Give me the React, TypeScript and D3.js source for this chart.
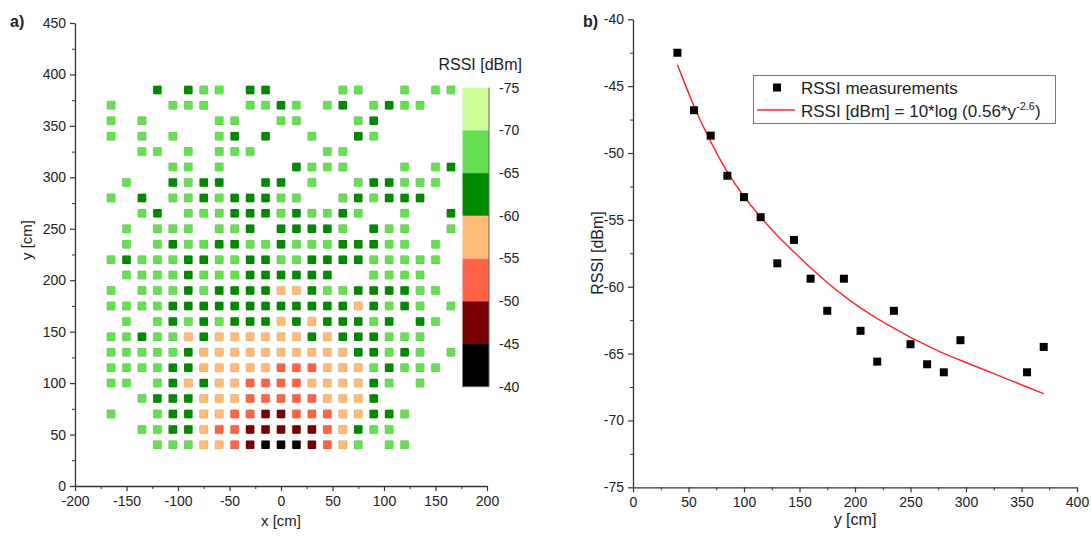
import React, { useRef, useEffect } from 'react';
import * as d3 from 'd3';

// ---- panel a) : RSSI map ----
const colX = [-165, -150, -135, -120, -105, -90, -75, -60, -45, -30, -15, 0, 15, 30, 45, 60, 75, 90, 105, 120, 135, 150, 165];
const rowY = [40, 55, 70, 85, 100, 115, 130, 145, 160, 175, 190, 205, 220, 235, 250, 265, 280, 295, 310, 325, 340, 355, 370, 385];
// one string per row (rowY order), one char per column (colX order)
// L: -70..-65, D: -65..-60, O: -60..-55, R: -55..-50, M: -50..-45, K: -45..-40
const heatRows = [
  '...LLLOORMKKKMROL.LL...',
  '..LLDDORRMMMMMRODLL....',
  'L..LDDOORRMMRRROODDL...',
  '..LDDDOOORRRRROOOD.....',
  'LL.LDODOORRRROOOODL.L..',
  'LLLLDDOOOOORRROOOLDLLL.',
  'LLLLLDOOOOOOOOOODDLDL.L',
  'LLDLLODOOOOOODODDDLLL..',
  '.L.LDLDLDDDODODDDLD.DL.',
  'LLLLDDDDDDDDDDDDODLDL.L',
  'L.LLLDLDDDDOODLLDDDDLL.',
  '.LLLLDLLLDDDDDD..LLLL..',
  'LDLLLDDLLDDLLDDDDLLLLL.',
  '.L.LDLLDDLLDLLLDDDLL.L.',
  '.L.LLL.LLD.DDDDL.DLL..L',
  '..LD.LLLDDDLDLLDL..L..D',
  'L.D.LLDLDDDLL..LDLDDD..',
  '.L..DLDD..DD.L..LDDLLL.',
  '....LL.L....DLLL...L.LD',
  '..LL.L.LLL....LL.......',
  'L.L.L..LD.D..L..DL.....',
  'L.L....LL..LL...LD.....',
  'L...LLL..LLDL.LD.LDLL..',
  '...D.DLL.DD....LL..L.LL',
];
const codeValue: Record<string, number> = { P: -72.5, L: -67.5, D: -62.5, O: -57.5, R: -52.5, M: -47.5, K: -42.5 };
const binEdges = [-75, -70, -65, -60, -55, -50, -45, -40];
const binColours = ['#ccff99', '#66e052', '#008a00', '#ffbb77', '#ff6347', '#780000', '#000000'];
const mapXTicks = [-200, -150, -100, -50, 0, 50, 100, 150, 200];
const mapYTicks = [0, 50, 100, 150, 200, 250, 300, 350, 400, 450];

// ---- panel b) : RSSI vs distance ----
const distances = [40, 55, 70, 85, 100, 115, 130, 145, 160, 175, 190, 205, 220, 235, 250, 265, 280, 295, 355, 370];
const rssi = [-42.5, -46.8, -48.7, -51.7, -53.3, -54.8, -58.25, -56.5, -59.4, -61.8, -59.4, -63.3, -65.6, -61.8, -64.3, -65.8, -66.4, -64.0, -66.4, -64.5];
const fitX = [40, 55, 70, 85, 100, 115, 130, 145, 160, 175, 190, 205, 220, 235, 250, 265, 280, 295, 310, 325, 340, 355, 370];
const fitY = [-43.4, -46.6, -49.2, -51.5, -53.3, -54.8, -56.2, -57.4, -58.6, -59.7, -60.7, -61.6, -62.4, -63.1, -63.8, -64.4, -65.0, -65.5, -66.0, -66.5, -67.0, -67.5, -68.0];
const distTicks = [0, 50, 100, 150, 200, 250, 300, 350, 400];
const rssiTicks = [-75, -70, -65, -60, -55, -50, -45, -40];

const FONT = "'Liberation Sans', Arial, sans-serif";

const App = () => {
  const svgRef = useRef<SVGSVGElement>(null);

  useEffect(() => {
    if (!svgRef.current) return;
    const svg = d3.select(svgRef.current);
    svg.selectAll('*').remove();
    svg.style('font-family', FONT);

    const styleAxis = (g: any) => {
      g.select('.domain').attr('stroke', '#333').attr('stroke-width', 1.3);
      g.selectAll('.tick line').attr('stroke', '#333').attr('stroke-width', 1.2);
      g.selectAll('.tick text').attr('fill', '#222').style('font-size', '14px').style('font-family', FONT);
    };
    const minorOnly = (g: any) => {
      g.select('.domain').remove();
      g.selectAll('.tick line').attr('stroke', '#333').attr('stroke-width', 1);
    };

    // ============ panel a ============
    const xA = d3.scaleLinear().domain([-200, 200]).range([75, 487]);
    const yA = d3.scaleLinear().domain([0, 450]).range([486, 23]);
    const colour = d3.scaleThreshold<number, string>().domain(binEdges.slice(1, -1)).range(binColours);

    const a = svg.append('g');
    const cells: { x: number; y: number; v: number }[] = [];
    heatRows.forEach((row, j) => {
      row.split('').forEach((c, i) => {
        if (c !== '.') cells.push({ x: colX[i], y: rowY[j], v: codeValue[c] });
      });
    });
    const s = 8.5;
    a.selectAll('rect.cell')
      .data(cells)
      .enter().append('rect')
      .attr('class', 'cell')
      .attr('x', d => xA(d.x) - s / 2)
      .attr('y', d => yA(d.y) - s / 2)
      .attr('width', s)
      .attr('height', s)
      .attr('rx', 1)
      .attr('fill', d => colour(d.v))
      .attr('stroke', 'rgba(0,0,0,0.12)')
      .attr('stroke-width', 0.8);

    a.append('g').attr('transform', 'translate(0,486)')
      .call(d3.axisBottom(xA).tickValues(d3.range(-175, 200, 50)).tickSize(3).tickFormat(() => ''))
      .call(minorOnly);
    a.append('g').attr('transform', 'translate(75,0)')
      .call(d3.axisLeft(yA).tickValues(d3.range(25, 450, 50)).tickSize(3).tickFormat(() => ''))
      .call(minorOnly);
    a.append('g').attr('transform', 'translate(0,486)')
      .call(d3.axisBottom(xA).tickValues(mapXTicks).tickSize(5).tickSizeOuter(0).tickPadding(5)
        .tickFormat(d => String(d)))
      .call(styleAxis);
    a.append('g').attr('transform', 'translate(75,0)')
      .call(d3.axisLeft(yA).tickValues(mapYTicks).tickSize(5).tickSizeOuter(0).tickPadding(4)
        .tickFormat(d => String(d)))
      .call(styleAxis);

    a.append('text').attr('x', 281).attr('y', 526).attr('text-anchor', 'middle')
      .style('font-size', '15px').attr('fill', '#222').text('x [cm]');
    a.append('text').attr('transform', 'translate(32,240) rotate(-90)').attr('text-anchor', 'middle')
      .style('font-size', '15px').attr('fill', '#222').text('y [cm]');
    a.append('text').attr('x', 10).attr('y', 27).style('font-size', '16px').style('font-weight', 'bold')
      .attr('fill', '#222').text('a)');

    // colour bar
    const cb = d3.scaleLinear().domain([-75, -40]).range([87.7, 386.7]);
    const cbX = 462.5, cbW = 26.5;
    a.selectAll('rect.bin')
      .data(binColours)
      .enter().append('rect')
      .attr('class', 'bin')
      .attr('x', cbX)
      .attr('y', (_, i) => cb(binEdges[i]))
      .attr('width', cbW)
      .attr('height', (_, i) => cb(binEdges[i + 1]) - cb(binEdges[i]))
      .attr('fill', d => d);
    a.append('path')
      .attr('d', `M${cbX + cbW},${cb(-75)}V${cb(-40)}H${cbX}`)
      .attr('fill', 'none').attr('stroke', '#666').attr('stroke-width', 1);
    a.selectAll('text.cbl')
      .data(binEdges)
      .enter().append('text')
      .attr('class', 'cbl')
      .attr('x', 499)
      .attr('y', d => cb(d))
      .attr('dy', '0.35em')
      .style('font-size', '14px')
      .attr('fill', '#222')
      .text(d => String(d));
    a.append('text').attr('x', 522).attr('y', 70).attr('text-anchor', 'end')
      .style('font-size', '16px').attr('fill', '#222').text('RSSI [dBm]');

    // ============ panel b ============
    const xB = d3.scaleLinear().domain([0, 400]).range([633, 1077]);
    const yB = d3.scaleLinear().domain([-75, -40]).range([487.3, 19.3]);
    const b = svg.append('g');

    b.append('g').attr('transform', 'translate(0,487.3)')
      .call(d3.axisBottom(xB).tickValues(d3.range(25, 400, 50)).tickSize(3).tickFormat(() => ''))
      .call(minorOnly);
    b.append('g').attr('transform', 'translate(633,0)')
      .call(d3.axisLeft(yB).tickValues(d3.range(-72.5, -40, 5)).tickSize(3).tickFormat(() => ''))
      .call(minorOnly);
    b.append('g').attr('transform', 'translate(0,487.3)')
      .call(d3.axisBottom(xB).tickValues(distTicks).tickSize(5).tickSizeOuter(0).tickPadding(5)
        .tickFormat(d => String(d)))
      .call(styleAxis);
    b.append('g').attr('transform', 'translate(633,0)')
      .call(d3.axisLeft(yB).tickValues(rssiTicks).tickSize(5).tickSizeOuter(0).tickPadding(4)
        .tickFormat(d => String(d)))
      .call(styleAxis);

    const line = d3.line<number>()
      .x((_, i) => xB(fitX[i]))
      .y(d => yB(d))
      .curve(d3.curveBasis);
    b.append('path').datum(fitY).attr('d', line)
      .attr('fill', 'none').attr('stroke', '#ff2a2a').attr('stroke-width', 1.5);

    const m = 8;
    b.selectAll('rect.pt')
      .data(rssi)
      .enter().append('rect')
      .attr('class', 'pt')
      .attr('x', (_, i) => xB(distances[i]) - m / 2)
      .attr('y', d => yB(d) - m / 2)
      .attr('width', m)
      .attr('height', m)
      .attr('fill', '#000');

    // legend
    const lg = b.append('g');
    lg.append('rect').attr('x', 753.5).attr('y', 75.5).attr('width', 302).attr('height', 48)
      .attr('fill', '#fff').attr('stroke', '#777').attr('stroke-width', 1);
    lg.append('rect').attr('x', 777 - 4).attr('y', 87.5 - 4).attr('width', 8).attr('height', 8).attr('fill', '#000');
    lg.append('text').attr('x', 801).attr('y', 93.5).style('font-size', '17px').attr('fill', '#222')
      .text('RSSI measurements');
    lg.append('line').attr('x1', 757).attr('x2', 795).attr('y1', 110).attr('y2', 110)
      .attr('stroke', '#ff2a2a').attr('stroke-width', 1.5);
    const t = lg.append('text').attr('x', 801).attr('y', 117).style('font-size', '17px').attr('fill', '#222');
    t.append('tspan').text('RSSI [dBm] = 10*log (0.56*y');
    t.append('tspan').attr('dy', -7).style('font-size', '11px').text('-2.6');
    t.append('tspan').attr('dy', 7).text(')');

    b.append('text').attr('x', 855).attr('y', 525).attr('text-anchor', 'middle')
      .style('font-size', '16px').attr('fill', '#222').text('y [cm]');
    b.append('text').attr('transform', 'translate(603,253) rotate(-90)').attr('text-anchor', 'middle')
      .style('font-size', '16px').attr('fill', '#222').text('RSSI [dBm]');
    b.append('text').attr('x', 583).attr('y', 27).style('font-size', '16px').style('font-weight', 'bold')
      .attr('fill', '#222').text('b)');
  }, []);

  return (
    <svg
      ref={svgRef}
      width={1091}
      height={536}
      style={{ position: 'absolute', left: 0, top: 0, background: '#fff' }}
    />
  );
};

export default App;
